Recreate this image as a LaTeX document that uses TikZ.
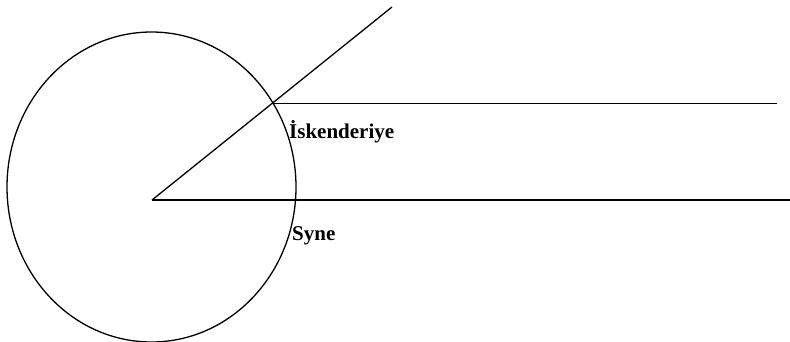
\documentclass[tikz,border=0pt]{standalone}
\usepackage{fontspec}
\setmainfont{Liberation Serif}
\begin{document}
\begin{tikzpicture}[x=1pt,y=-1pt,
  ln/.style={line width=1.3pt,black},
  lbl/.style={anchor=base west,inner sep=0pt,font=\fontsize{21}{25}\selectfont\bfseries}]
\useasboundingbox (0,0) rectangle (790,341);
\draw[ln] (151.5,187) ellipse [x radius=144.5, y radius=155];
\coordinate (O) at (152,200);
\coordinate (A) at (273,103.5);
\coordinate (T) at (392,7);
\coordinate (R1) at (777,103.5);
\coordinate (R2) at (790,200);
\draw[ln] (O) -- (T);
\draw[ln] (A) -- (R1);
\draw[ln] (O) -- (R2);
\node[lbl] (isk) at (289,138) {İskenderiye};
\node[lbl] (syne) at (292,240) {Syne};
\end{tikzpicture}
\end{document}
